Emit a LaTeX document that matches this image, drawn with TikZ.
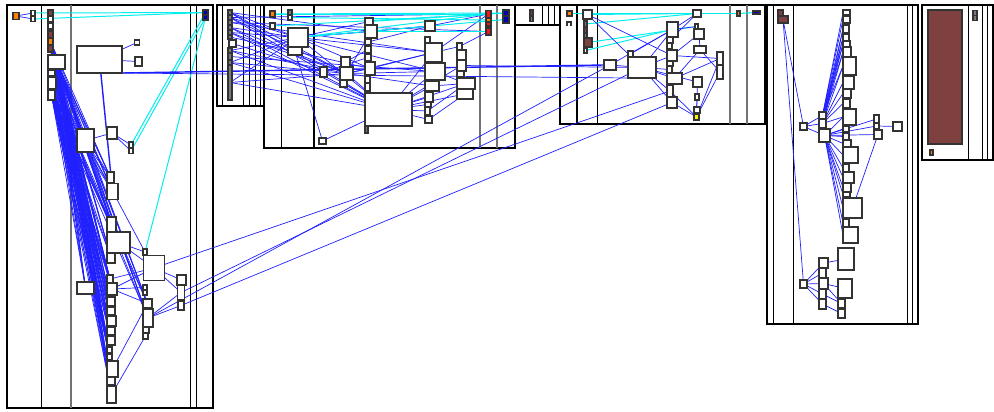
\documentclass[tikz,border=0pt]{standalone}
\usepackage{xcolor}
\usepackage{tikz}
\usetikzlibrary{backgrounds}
\definecolor{clsBrown}{HTML}{7F4040}
\definecolor{clsOrange}{HTML}{FF8000}
\definecolor{clsNavy}{HTML}{0000B0}
\definecolor{clsRed}{HTML}{F01818}
\definecolor{clsYellow}{HTML}{FFF000}
\definecolor{clsGray}{HTML}{7A7A7A}
\definecolor{depBlue}{HTML}{2020FF}
\definecolor{useCyan}{HTML}{00EEEE}

\begin{document}
\begin{tikzpicture}[
    x=0.25mm, y=-0.25mm,
    cls/.style={rectangle, draw=black!80, fill=white, line width=0.8pt,
        inner sep=0pt, outer sep=0pt},
    sz/.style 2 args={minimum width=#1*0.25mm, minimum height=#2*0.25mm},
    pkg/.style={draw=black, line width=2pt},
    lane/.style={draw=black, line width=0.6pt},
    greylane/.style={draw=black!55, line width=1pt},
    dep/.style={depBlue, line width=0.5pt},
    use/.style={useCyan, line width=0.7pt}
]
\useasboundingbox (0,0) rectangle (994,412);

% package 1
\node[cls, fill=clsOrange, sz={6}{7}] (a1) at (16,16) {};
\node[cls, sz={4}{5}] (a2) at (33,13) {};
\node[cls, sz={4}{5}] (a3) at (33,19) {};
\node[cls, fill=clsBrown, sz={5}{6}] (a4) at (50.5,13) {};
\node[cls, sz={5}{6}] (a5) at (50.5,19) {};
\node[cls, sz={5}{6}] (a6) at (50.5,26) {};
\node[cls, fill=clsBrown, sz={5}{7}] (a7) at (50.5,34.5) {};
\node[cls, fill=clsOrange, sz={5}{7}] (a8) at (50.5,41.5) {};
\node[cls, fill=clsBrown, sz={5}{7}] (a9) at (50.5,48.5) {};
\node[cls, sz={17}{14}] (a10) at (56.5,62) {};
\node[cls, sz={7}{6}] (a11) at (51.5,73) {};
\node[cls, sz={8}{12}] (a12) at (52,83) {};
\node[cls, sz={7}{10}] (a13) at (51.5,95) {};
\node[cls, sz={45}{27}] (a14) at (99.5,59.5) {};
\node[cls, sz={5}{5}] (a15) at (137,42.5) {};
\node[cls, sz={7}{9}] (a16) at (138.5,61.5) {};
\node[cls, fill=clsNavy, sz={5}{5}] (a17) at (205.5,12.5) {};
\node[cls, fill=clsNavy, sz={5}{5}] (a18) at (205.5,17.5) {};
\node[cls, sz={17}{23}] (a19) at (85.5,140.5) {};
\node[cls, sz={10}{12}] (a20) at (112,133) {};
\node[cls, sz={4}{6}] (a21) at (131,145) {};
\node[cls, sz={4}{5}] (a22) at (131,151) {};
\node[cls, sz={7}{11}] (a23) at (110.5,177.5) {};
\node[cls, sz={11}{16}] (a24) at (112.5,191.5) {};
\node[cls, sz={9}{15}] (a25) at (111.5,224.5) {};
\node[cls, sz={23}{21}] (a26) at (118.5,242.5) {};
\node[cls, sz={8}{10}] (a27) at (111,258) {};
\node[cls, sz={4}{6}] (a28) at (145,252) {};
\node[cls, sz={21}{25}] (a29) at (154,268) {};
\node[cls, sz={17}{12}] (a30) at (85.5,288) {};
\node[cls, sz={6}{8}] (a31) at (110,279) {};
\node[cls, sz={10}{12}] (a32) at (112,289) {};
\node[cls, sz={8}{9}] (a33) at (111,301.5) {};
\node[cls, sz={8}{8}] (a34) at (111,311) {};
\node[cls, sz={9}{10}] (a35) at (111.5,321) {};
\node[cls, sz={8}{8}] (a36) at (111,331) {};
\node[cls, sz={8}{9}] (a37) at (111,340.5) {};
\node[cls, sz={5}{6}] (a38) at (109.5,350) {};
\node[cls, sz={5}{6}] (a39) at (109.5,357) {};
\node[cls, sz={11}{16}] (a40) at (112.5,369) {};
\node[cls, sz={8}{8}] (a41) at (111,381) {};
\node[cls, sz={9}{17}] (a42) at (111.5,394.5) {};
\node[cls, sz={4}{5}] (a44) at (145,287.5) {};
\node[cls, sz={4}{5}] (a45) at (145,292.5) {};
\node[cls, sz={9}{9}] (a46) at (147.5,303.5) {};
\node[cls, sz={10}{18}] (a47) at (148,318) {};
\node[cls, sz={6}{6}] (a48) at (146,330) {};
\node[cls, sz={5}{6}] (a49) at (145.5,336) {};
\node[cls, sz={9}{10}] (a50) at (181.5,280) {};
\node[cls, sz={7}{15}] (a51) at (181,292.5) {};
\node[cls, sz={6}{9}] (a52) at (181,305.5) {};

% package 2
\foreach \i/\y/\h in {1/12.5/5, 2/17.5/5, 3/22.5/5, 4/27.5/5, 5/32.5/5, 6/37/4,
                      8/50.5/5, 9/56.5/7, 10/62.5/5, 11/82.5/35}
    \node[cls, fill=clsGray, sz={4}{\h}] (b\i) at (230,\y) {};
\node[cls, sz={7}{7}] (b7) at (232.5,43.5) {};

% package 3
\node[cls, fill=clsOrange, sz={5}{6}] (c1) at (272.5,14) {};
\node[cls, sz={5}{6}] (c2) at (272.5,26) {};
\node[cls, fill=clsGray, sz={4}{5}] (c3) at (290,12.5) {};
\node[cls, sz={4}{5}] (c4) at (290,17.5) {};
\node[cls, sz={20}{19}] (c5) at (298,37.5) {};
\node[cls, sz={14}{8}] (c6) at (295,51) {};
\node[cls, sz={7}{10}] (c7) at (323.5,72) {};
\node[cls, sz={9}{10}] (c8) at (345.5,62) {};
\node[cls, sz={13}{13}] (c9) at (346.5,73.5) {};
\node[cls, sz={7}{7}] (c10) at (343.5,83.5) {};
\node[cls, sz={7}{6}] (c11) at (322.5,141) {};
\node[cls, sz={8}{7}] (c12) at (369,21.5) {};
\node[cls, sz={12}{13}] (c13) at (371,31.5) {};
\node[cls, sz={6}{6}] (c14) at (368,42) {};
\node[cls, sz={6}{7}] (c15) at (368,49.5) {};
\node[cls, sz={6}{7}] (c16) at (368,57.5) {};
\node[cls, sz={10}{13}] (c17) at (370,68.5) {};
\node[cls, sz={5}{7}] (c18) at (367.5,79.5) {};
\node[cls, sz={5}{8}] (c19) at (367.5,87) {};
\node[cls, sz={47}{33}] (c20) at (388.5,109.5) {};
\node[cls, fill=clsGray, sz={3}{7}] (c21) at (366.5,129.5) {};
\node[cls, sz={10}{10}] (c22) at (430,26) {};
\node[cls, sz={5}{6}] (c23) at (427.5,40) {};
\node[cls, sz={17}{19}] (c24) at (433.5,52.5) {};
\node[cls, sz={20}{17}] (c25) at (435,71.5) {};
\node[cls, sz={14}{10}] (c26) at (432,86) {};
\node[cls, sz={8}{10}] (c27) at (429,97) {};
\node[cls, sz={6}{5}] (c28) at (428,104.5) {};
\node[cls, sz={5}{8}] (c29) at (427.5,111) {};
\node[cls, sz={7}{7}] (c30) at (428.5,119.5) {};
\node[cls, sz={5}{7}] (c31) at (459.5,46.5) {};
\node[cls, sz={9}{10}] (c32) at (461.5,55) {};
\node[cls, sz={9}{11}] (c33) at (461.5,65.5) {};
\node[cls, sz={7}{6}] (c34) at (460.5,74) {};
\node[cls, sz={18}{11}] (c35) at (466,83.5) {};
\node[cls, sz={16}{10}] (c36) at (465,94) {};
\node[cls, fill=clsRed, sz={5}{7}] (c37) at (488.5,14) {};
\node[cls, fill=clsOrange, sz={5}{4}] (c39) at (488.5,20) {};
\node[cls, fill=clsRed, sz={5}{4}] (c40) at (488.5,24) {};
\node[cls, fill=clsRed, sz={5}{7}] (c41) at (488.5,31.5) {};
\node[cls, fill=clsNavy, sz={6}{6}] (c42) at (506,13) {};
\node[cls, fill=clsNavy, sz={6}{7}] (c43) at (506,19.5) {};

% package 4
\node[cls, fill=clsBrown, sz={3}{6}] (d1) at (531.5,13) {};
\node[cls, fill=clsGray, sz={3}{5}] (d2) at (531.5,19) {};

% package 5
\node[cls, fill=clsOrange, sz={5}{5}] (e1) at (569.5,13.5) {};
\node[cls, sz={9}{9}] (e3) at (587.5,14.5) {};
\node[cls, fill=clsGray, sz={3}{6}] (e4) at (585.5,24) {};
\node[cls, fill=clsBrown, sz={3}{6}] (e5) at (585.5,30) {};
\node[cls, fill=clsGray, sz={3}{5}] (e6) at (585.5,35.5) {};
\node[cls, fill=clsBrown, sz={8}{9}] (e7) at (588,42.5) {};
\node[cls, sz={3}{5}] (e8) at (585.5,50.5) {};
\node[cls, sz={12}{10}] (e9) at (610,65) {};
\node[cls, sz={5}{6}] (e10) at (630.5,54) {};
\node[cls, sz={28}{21}] (e11) at (642,67.5) {};
\node[cls, sz={11}{15}] (e12) at (672.5,29.5) {};
\node[cls, sz={6}{6}] (e13) at (670,40) {};
\node[cls, sz={5}{6}] (e14) at (669.5,46) {};
\node[cls, sz={10}{11}] (e15) at (672,55.5) {};
\node[cls, sz={6}{5}] (e16) at (670,63.5) {};
\node[cls, sz={5}{7}] (e17) at (669.5,69.5) {};
\node[cls, sz={15}{11}] (e18) at (674.5,78.5) {};
\node[cls, sz={6}{12}] (e19) at (670,91) {};
\node[cls, sz={10}{11}] (e20) at (672,102.5) {};
\node[cls, sz={8}{7}] (e21) at (697,13.5) {};
\node[cls, sz={3}{5}] (e22) at (696.5,26.5) {};
\node[cls, sz={10}{10}] (e23) at (699,34) {};
\node[cls, sz={12}{7}] (e24) at (700,49.5) {};
\node[cls, sz={9}{10}] (e25) at (697.5,82) {};
\node[cls, sz={4}{6}] (e26) at (697,97) {};
\node[cls, sz={6}{6}] (e27) at (697,110) {};
\node[cls, fill=clsYellow, sz={5}{6}] (e28) at (696.5,117) {};
\node[cls, sz={6}{13}] (e29) at (720,58.5) {};
\node[cls, sz={6}{14}] (e30) at (720,72) {};
\node[cls, fill=clsOrange, sz={3}{5}] (e31) at (738.5,13.5) {};
\node[cls, fill=clsNavy, sz={7}{3}] (e32) at (756.5,12.5) {};
\draw[black!80, line width=0.8pt] (567,26.5) |- (571,22) -- (571,26.5);

% package 6
\node[cls, fill=clsBrown, sz={5}{6}] (f1) at (780.5,13) {};
\node[cls, fill=clsBrown, sz={10}{7}] (f2) at (783,19.5) {};
\node[cls, sz={7}{7}] (f3) at (803.5,126.5) {};
\node[cls, sz={7}{7}] (f4) at (822.5,115.5) {};
\node[cls, sz={7}{9}] (f5) at (822.5,123.5) {};
\node[cls, sz={11}{13}] (f6) at (824.5,135.5) {};
\foreach \i/\y/\w/\h in {7/12.5/7/5, 8/19.5/7/7, 9/29/6/8, 10/37.5/6/7, 11/44/7/6,
        12/52/8/10, 13/66/13/18, 14/82.5/11/13, 15/93.5/8/9, 16/103.5/7/9,
        17/117/13/16, 18/129/6/6, 19/136.5/6/7, 20/143.5/8/7, 21/155/15/16,
        22/168/6/8, 23/177.5/11/11, 24/187.5/8/9, 25/194.5/7/5, 26/208/19/20,
        27/223/6/8, 28/235/15/16}
    \node[cls, sz={\w}{\h}, anchor=west] (f\i) at (843,\y) {};
\node[cls, sz={5}{8}] (f29) at (876.5,119) {};
\node[cls, sz={5}{6}] (f30) at (876.5,126) {};
\node[cls, sz={8}{9}] (f31) at (878,134.5) {};
\node[cls, sz={9}{9}] (f32) at (897.5,126.5) {};
\node[cls, sz={7}{8}] (f33) at (803.5,284) {};
\node[cls, sz={9}{10}] (f34) at (823.5,263) {};
\node[cls, sz={7}{10}] (f35) at (822.5,273) {};
\node[cls, sz={9}{11}] (f36) at (823.5,283.5) {};
\node[cls, sz={7}{10}] (f37) at (822.5,294) {};
\node[cls, sz={7}{10}] (f38) at (822.5,304) {};
\node[cls, sz={16}{22}] (f39) at (846,259) {};
\node[cls, sz={14}{19}] (f40) at (845,288.5) {};
\node[cls, sz={7}{9}] (f41) at (841.5,303.5) {};
\node[cls, sz={7}{9}] (f42) at (841.5,313.5) {};

% package 7
\node[cls, fill=clsBrown, sz={34}{134}] (g1) at (945,77) {};
\node[cls, fill=clsGray, sz={4}{5}] (g2) at (975,13) {};
\node[cls, fill=clsGray, sz={4}{5}] (g3) at (975,18) {};
\node[cls, fill=clsOrange, sz={3}{5}] (g4) at (931.5,152.5) {};

\begin{scope}[on background layer]
    % frames and lanes
    \draw[pkg] (7,5) rectangle (213,408);
    \draw[pkg] (217,5) rectangle (264,106);
    \draw[pkg] (264,5) rectangle (515,148);
    \draw[pkg] (515,5) rectangle (560,25);
    \draw[pkg] (560,5) rectangle (765,124);
    \draw[pkg] (767,5) rectangle (918,324);
    \draw[pkg] (922,5) rectangle (993,160);
    \foreach \x in {41,190,196} \draw[lane] (\x,5) -- (\x,408);
    \draw[greylane] (71,5) -- (71,408);
    \foreach \x in {222,243,249,255,260} \draw[lane] (\x,5) -- (\x,106);
    \draw[lane] (281,5) -- (281,148);
    \draw[lane, line width=1.2pt] (314,5) -- (314,148);
    \foreach \x in {480,497} \draw[greylane] (\x,5) -- (\x,148);
    \foreach \x in {542,548,554} \draw[lane] (\x,5) -- (\x,25);
    \draw[lane, line width=1.4pt] (577,5) -- (577,124);
    \draw[lane] (597,5) -- (597,124);
    \foreach \x in {730,747} \draw[greylane] (\x,5) -- (\x,124);
    \foreach \x in {773,793,907,912} \draw[lane] (\x,5) -- (\x,324);
    \foreach \x in {968,982,987} \draw[lane] (\x,5) -- (\x,160);

    % package 1 dependencies
    \draw[dep] (a1) -- (a2);
    \draw[dep] (a1) -- (a3);
    \draw[use] (a2) -- (a17);
    \draw[use] (a3) -- (a17);
    \draw[use] (a17) -- (a21);
    \draw[use] (a18) -- (a22);
    \draw[use] (a18) -- (a28);
    \draw[dep] (a14) -- (a15);
    \draw[dep] (a14) -- (a16);
    \draw[dep, line width=1pt] (a14) -- (a24);
    \foreach \s in {a8,a9,a10,a12,a13} {
        \foreach \t in {a19,a23,a24,a25,a26,a27,a30,a31,a32,a33,a34,a35,a36,a37,a38,a39,a40,a41,a42,a46,a47}
            \draw[dep] (\s) -- (\t);
    }
    \draw[dep] (a19) -- (a20);
    \draw[dep] (a20) -- (a21);
    \draw[dep] (a20) -- (a22);
    \draw[dep] (a19) -- (a28);
    \draw[dep] (a26) -- (a28);
    \draw[dep] (a26) -- (a29);
    \draw[dep] (a29) -- (a50);
    \draw[dep] (a29) -- (a51);
    \draw[dep] (a32) -- (a29);
    \draw[dep] (a31) -- (a29);
    \draw[dep] (a32) -- (a44);
    \draw[dep] (a32) -- (a46);
    \draw[dep] (a46) -- (a40);
    \draw[dep] (a49) -- (a42);
    \draw[dep] (a47) -- (a51);
    \draw[dep] (a47) -- (a52);

    % across packages
    \draw[dep, line width=1pt] (a14.south east) -- (e9.west);
    \draw[dep] (a14.south east) -- (e11.south west);
    \draw[dep] (a29) -- (e19);
    \draw[dep] (a47) -- (e9);
    \draw[dep] (a51) -- (e11);
    \draw[dep] (a52) -- (e20);
    \draw[dep] (c33) -- (e11);

    % package 2 and 3 dependencies
    \foreach \s in {b1,b2,b4,b5,b8,b10,b11} {
        \foreach \t in {c5,c9,c20}
            \draw[dep] (\s) -- (\t);
    }
    \draw[dep] (b1) -- (c13);
    \draw[dep] (b3) -- (c24);
    \draw[dep] (b6) -- (c17);
    \draw[dep] (b7) -- (c7);
    \draw[dep] (b9) -- (c25);
    \draw[dep] (b2) -- (c37);
    \draw[dep] (b3) -- (c41);
    \foreach \t in {c12,c13,c17,c20,c22,c24,c25}
        \draw[dep] (c5) -- (\t);
    \foreach \t in {c13,c17,c20,c24,c25,c26}
        \draw[dep] (c9) -- (\t);
    \foreach \t in {c24,c25,c26,c27,c28,c29,c30,c33,c35,c36}
        \draw[dep] (c20) -- (\t);
    \draw[dep] (c8) -- (c15);
    \draw[dep] (c10) -- (c20);
    \draw[dep] (c7) -- (c16);
    \draw[dep] (c6) -- (c11);
    \draw[dep] (c11) -- (c20);
    \draw[dep] (c13) -- (c22);
    \draw[dep] (c14) -- (c22);
    \draw[dep] (c17) -- (c24);
    \draw[dep] (c24) -- (c31);
    \draw[dep] (c25) -- (c35);
    \draw[dep] (c26) -- (c35);
    \draw[dep] (c29) -- (c35);
    \draw[dep] (c30) -- (c36);
    \draw[dep] (c22) -- (c37);
    \draw[dep] (c24) -- (c37);
    \draw[dep] (c31) -- (c41);
    \draw[use] (c1) -- (c37);
    \draw[use] (c1) -- (c42);
    \draw[use] (c2) -- (c37);
    \draw[use] (c4) -- (c39);
    \draw[use] (c5) -- (c37);
    \draw[use] (c5) -- (c43);
    \draw[use] (c12) -- (c42);
    \draw[use] (c13) -- (c41);

    % package 5 dependencies
    \draw[use] (e1) -- (e21);
    \draw[use] (e3) -- (e21);
    \draw[use] (e4) -- (e21);
    \draw[use] (e7) -- (e22);
    \draw[use] (e8) -- (e12);
    \draw[use] (e21) -- (e31);
    \draw[use] (e31) -- (e32);
    \draw[dep] (e3) -- (e11);
    \draw[dep] (e3) -- (e15);
    \draw[dep] (e9) -- (e11);
    \draw[dep] (e9) -- (e12);
    \draw[dep] (e10) -- (e12);
    \foreach \t in {e12,e15,e17,e18,e19,e20,e25}
        \draw[dep] (e11) -- (\t);
    \draw[dep] (e12) -- (e21);
    \draw[dep] (e13) -- (e21);
    \draw[dep] (e12) -- (e22);
    \draw[dep] (e15) -- (e23);
    \draw[dep] (e22) -- (e23);
    \draw[dep] (e23) -- (e24);
    \draw[dep] (e18) -- (e24);
    \draw[dep] (e18) -- (e29);
    \draw[dep] (e15) -- (e29);
    \draw[dep] (e24) -- (e30);
    \foreach \s in {e19,e20,e25,e26,e27,e29,e30}
        \draw[dep] (\s) -- (e28);

    % package 6 dependencies
    \draw[dep] (f2) -- (f3);
    \draw[dep] (f2) -- (f33);
    \foreach \t in {f4,f5,f6}
        \draw[dep] (f3) -- (\t);
    \foreach \t in {f7,f8,f9,f10,f11,f12,f13}
        \draw[dep] (f4) -- (\t.west);
    \foreach \t in {f9,f10,f11,f12,f13,f14,f15,f16,f17}
        \draw[dep] (f5) -- (\t.west);
    \foreach \t in {f17,f18,f19,f20,f21,f22,f23,f24,f25,f26,f27,f28}
        \draw[dep] (f6) -- (\t.west);
    \draw[dep] (f6) -- (f29);
    \draw[dep] (f6) -- (f30);
    \draw[dep] (f6) -- (f31);
    \draw[dep] (f30) -- (f32);
    \draw[dep] (f31) -- (f26);
    \foreach \t in {f34,f35,f36,f37,f38}
        \draw[dep] (f33) -- (\t);
    \draw[dep] (f34) -- (f39);
    \draw[dep] (f36) -- (f40);
    \draw[dep] (f36) -- (f41);
    \draw[dep] (f37) -- (f41);
    \draw[dep] (f38) -- (f42);
\end{scope}

\end{tikzpicture}
\end{document}
